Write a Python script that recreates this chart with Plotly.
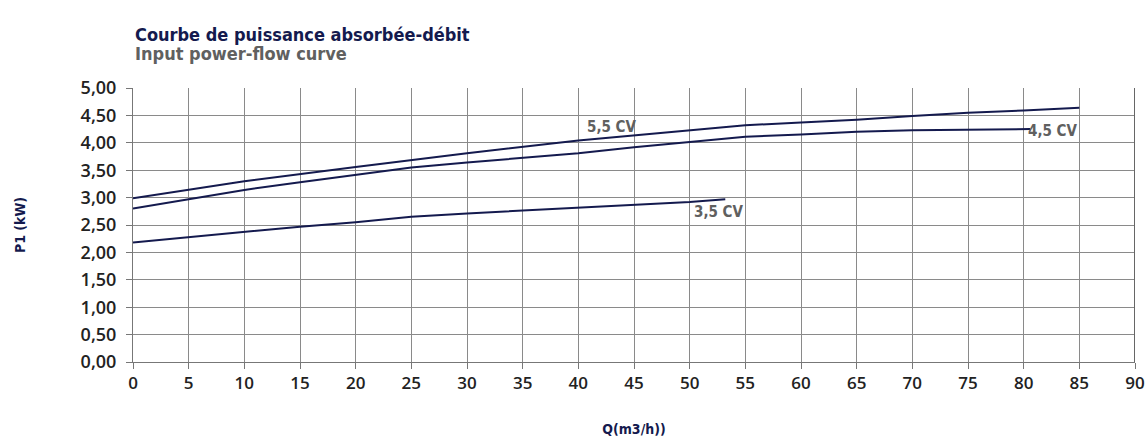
import plotly.graph_objects as go

q_55 = [0, 10, 20, 25, 30, 40, 45, 50, 55, 60, 65, 70, 75, 80, 85]
p_55 = [2.99, 3.30, 3.56, 3.69, 3.81, 4.04, 4.13, 4.22, 4.32, 4.37, 4.42, 4.49, 4.55, 4.59, 4.64]

q_45 = [0, 10, 15, 20, 25, 30, 35, 40, 45, 50, 55, 60, 65, 70, 75, 80.6]
p_45 = [2.80, 3.14, 3.28, 3.41, 3.55, 3.64, 3.73, 3.81, 3.92, 4.02, 4.11, 4.15, 4.20, 4.23, 4.24, 4.25]

q_35 = [0, 5, 10, 15, 20, 25, 30, 35, 40, 45, 50, 53.2]
p_35 = [2.18, 2.28, 2.37, 2.47, 2.55, 2.65, 2.71, 2.76, 2.81, 2.86, 2.92, 2.97]

labels = ["5,5 CV", "4,5 CV", "3,5 CV"]
label_q = [43.0, 82.6, 52.6]
label_p = [4.29, 4.22, 2.74]

x_ticks = list(range(0, 95, 5))
y_ticks = [i * 0.5 for i in range(11)]

navy = "#141a4e"
grey = "#606060"
font_c = "DejaVu Sans Condensed"

fig = go.Figure()
for q, p in [(q_55, p_55), (q_45, p_45), (q_35, p_35)]:
    fig.add_trace(go.Scatter(x=q, y=p, mode="lines", line=dict(color=navy, width=2),
                             showlegend=False, hoverinfo="skip"))

for t, xq, yp in zip(labels, label_q, label_p):
    fig.add_annotation(x=xq, y=yp, text="<b>" + t + "</b>", showarrow=False,
                       xanchor="center", yanchor="middle",
                       font=dict(family=font_c, size=15, color=grey))

fig.add_annotation(xref="paper", yref="paper", x=0.0, y=1.0, yshift=66, xanchor="left", yanchor="top",
                   text="<b>Courbe de puissance absorbée-débit</b>", showarrow=False,
                   font=dict(family=font_c, size=18, color=navy))
fig.add_annotation(xref="paper", yref="paper", x=0.0, y=1.0, yshift=47, xanchor="left", yanchor="top",
                   text="<b>Input power-flow curve</b>", showarrow=False,
                   font=dict(family=font_c, size=18, color=grey))

fig.update_layout(
    width=1148, height=442,
    margin=dict(l=133, r=13, t=88, b=80, autoexpand=False),
    plot_bgcolor="white", paper_bgcolor="white",
    separators=",.",
    xaxis=dict(range=[0, 90], tickvals=x_ticks, showgrid=True, gridcolor="#8a8a8a", gridwidth=1,
               zeroline=False, showline=True, linecolor="#777", mirror=False,
               ticks="outside", ticklen=6, tickcolor="#777", automargin=False,
               tickfont=dict(family="Open Sans", size=17, color="#222", weight=600),
               title=dict(text="<b>Q(m3/h))</b>", font=dict(family=font_c, size=14, color=navy), standoff=30)),
    yaxis=dict(range=[0, 5], tickvals=y_ticks, tickformat=".2f", showgrid=True, gridcolor="#8a8a8a",
               gridwidth=1, zeroline=False, showline=True, linecolor="#777",
               ticks="outside", ticklen=6, tickcolor="#777", automargin=False, ticklabelstandoff=6,
               tickfont=dict(family="Open Sans", size=18, color="#222", weight=600),
               title=dict(text="<b>P1 (kW)</b>", font=dict(family=font_c, size=14, color=navy), standoff=51)),
    shapes=[dict(type="line", xref="x", yref="paper", x0=90, x1=90, y0=0, y1=1,
                 line=dict(color="#666", width=2))],
)

fig.write_html("out.html", config={"displayModeBar": False},
               post_script="document.body.style.margin='0';")
